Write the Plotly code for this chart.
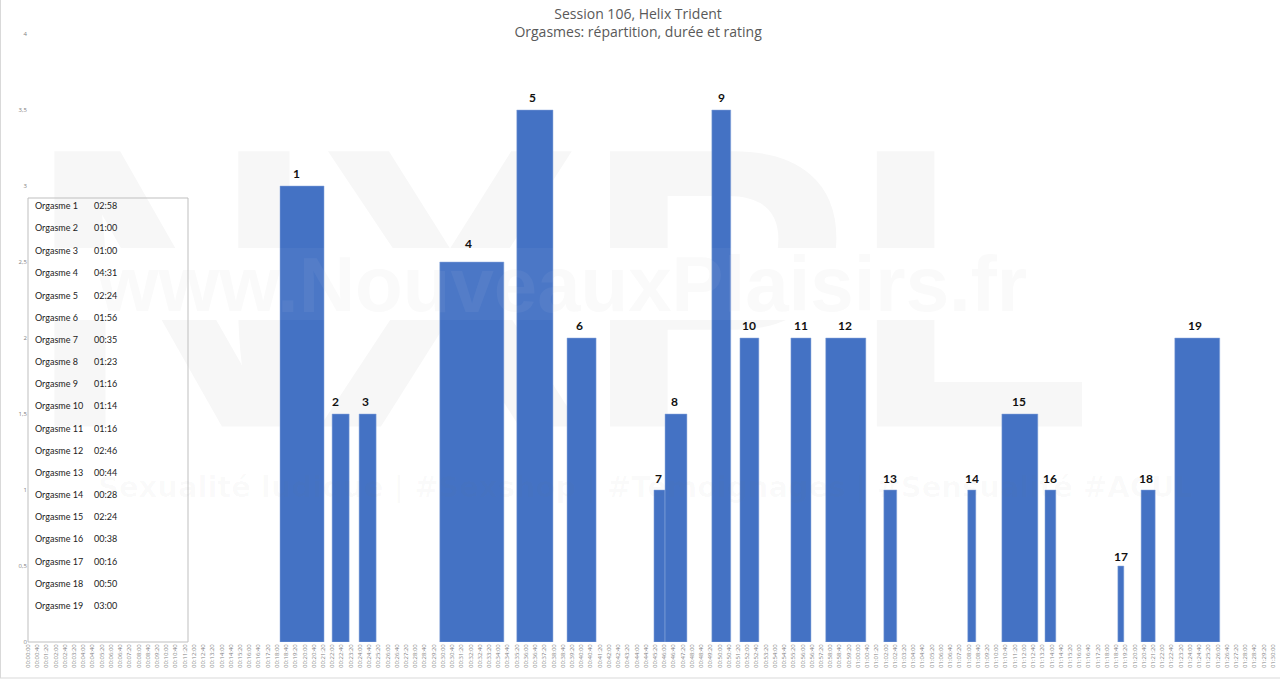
import plotly.graph_objects as go

# rating, start and end of each orgasm (seconds from session start)
numbers = list(range(1, 20))
ratings = [3, 1.5, 1.5, 2.5, 3.5, 2, 1, 1.5, 3.5, 2, 2, 2, 1, 1, 1.5, 1, 0.5, 1, 2]
starts = [1093, 1319, 1436, 1786, 2120, 2338, 2715, 2763, 2966, 3088, 3309, 3460, 3712, 4076, 4224, 4411, 4727, 4828, 4974]
ends = [1284, 1393, 1510, 2064, 2277, 2464, 2763, 2858, 3048, 3170, 3396, 3634, 3768, 4111, 4380, 4458, 4753, 4889, 5169]
durations = ["02:58", "01:00", "01:00", "04:31", "02:24", "01:56", "00:35", "01:23", "01:16", "01:14",
             "01:16", "02:46", "00:44", "00:28", "02:24", "00:38", "00:16", "00:50", "03:00"]
table_rows_y = [205, 228, 250, 272, 295, 317, 339, 361, 383, 405, 428, 450, 472, 494, 516, 538, 561, 583, 605]
y_ticks = [0, 0.5, 1, 1.5, 2, 2.5, 3, 3.5, 4]
tick_seconds = list(range(0, 5401, 40))

# the number labels were placed by hand in the original, slightly off the bar centres
label_xshift = [-6, -5, -2, -3, -2, -2, -1, -1, 0, 0, 0, -1, 0, 0, -1, 0, 0, -2, -2]
label_yshift = [3, 3, 3, 9, 3, 3, 2, 3, 3, 3, 3, 3, 2, 2, 3, 2, 0, 2, 3]

# plot area margins, in pixels
ML, MR, MT, MB = 28, 7, 34, 38


def hms(s):
    return "%02d:%02d:%02d" % (s // 3600, s % 3600 // 60, s % 60)


# paper coordinates are relative to the plot area, so convert from picture pixels
def px(x):
    return (x - ML) / (1280 - ML - MR)


def py(y):
    return (680 - MB - y) / (680 - MT - MB)


widths = [e - s for s, e in zip(starts, ends)]

fig = go.Figure()
fig.add_trace(go.Bar(
    x=starts,
    y=ratings,
    width=widths,
    offset=0,
    marker=dict(color="#4472C4", line=dict(color="#8FAADC", width=0.5)),
    hoverinfo="skip",
))

annotations = []
shapes = []

for i, n in enumerate(numbers):
    annotations.append(dict(text=str(n), x=(starts[i] + ends[i]) / 2, y=ratings[i], yanchor="bottom",
                            xshift=label_xshift[i], yshift=label_yshift[i], showarrow=False,
                            font=dict(family="Lato", size=12, color="#111111", weight="bold")))


def paper_rect(x0, x1, y0, y1, **kw):
    return dict(type="rect", xref="paper", yref="paper", x0=px(x0), x1=px(x1), y0=py(y0), y1=py(y1),
                line=dict(width=0), **kw)


# watermark under the bars: big letters, white band across them, site name in the band
shapes.append(paper_rect(53, 1069, 103, 397, layer="below", fillcolor="rgba(255,255,255,0)",
                         label=dict(text="NXPL", textposition="middle center",
                                    font=dict(family="Liberation Sans", size=400, color="#F7F7F7", weight="bold"))))
shapes.append(paper_rect(0, 1280, 248, 320, layer="below", fillcolor="white"))
shapes.append(paper_rect(100, 1025, 249, 305, layer="below", fillcolor="rgba(255,255,255,0)",
                         label=dict(text="www.NouveauxPlaisirs.fr", textposition="middle center",
                                    font=dict(family="Liberation Sans", size=78, color="#FAFAFA", weight="bold"))))
# same band and site name show faintly over the bars
shapes.append(paper_rect(0, 1280, 248, 320, layer="above", fillcolor="rgba(255,255,255,0.04)"))
annotations.append(dict(text="www.NouveauxPlaisirs.fr", xref="paper", yref="paper", x=px(562), y=py(285), yanchor="middle",
                        showarrow=False,
                        font=dict(family="Liberation Sans", size=78, color="rgba(255,255,255,0.05)", weight="bold")))
annotations.append(dict(text="Sexualité ludique | #Sexshop | #Témoignages | #Sensualité #ACUL", xref="paper", yref="paper",
                        x=px(645), y=py(487), yanchor="middle", showarrow=False,
                        font=dict(family="DejaVu Sans", size=29, color="rgba(120,120,120,0.03)", weight="bold")))

# table of durations
shapes.append(dict(type="rect", xref="paper", yref="paper", x0=px(28), x1=px(188), y0=py(198), y1=py(642),
                   line=dict(color="#BFBFBF", width=1), fillcolor="rgba(255,255,255,0)"))
for n, d, row_y in zip(numbers, durations, table_rows_y):
    annotations.append(dict(text="Orgasme %d" % n, xref="paper", yref="paper", x=px(33), y=py(row_y), xanchor="left",
                            yanchor="middle", showarrow=False, font=dict(family="Lato", size=9, color="#222222")))
    annotations.append(dict(text=d, xref="paper", yref="paper", x=px(92), y=py(row_y), xanchor="left",
                            yanchor="middle", showarrow=False, font=dict(family="Lato", size=9, color="#222222")))

# outer chart frame: left and bottom edges show
shapes.append(dict(type="line", xref="paper", yref="paper", x0=px(0.5), x1=px(0.5), y0=py(0), y1=py(678),
                   line=dict(color="#D9D9D9", width=1)))
shapes.append(dict(type="line", xref="paper", yref="paper", x0=px(0), x1=px(1280), y0=py(678), y1=py(678),
                   line=dict(color="#D9D9D9", width=1)))

fig.update_layout(
    width=1280,
    height=680,
    margin=dict(l=ML, r=MR, t=MT, b=MB),
    paper_bgcolor="white",
    plot_bgcolor="white",
    showlegend=False,
    title=dict(
        text="Session 106, Helix Trident<br>Orgasmes: répartition, durée et rating",
        x=0.4985, xanchor="center", y=0.972, yanchor="top",
        font=dict(family="Open Sans", size=14, color="#595959"),
    ),
    xaxis=dict(
        range=[0, 5400],
        automargin=False,
        tickmode="array",
        tickvals=tick_seconds,
        ticktext=[hms(s) for s in tick_seconds],
        tickangle=-90,
        tickfont=dict(family="Open Sans", size=6, color="#7F7F7F"),
        showgrid=False,
        zeroline=False,
        showline=False,
        ticks="",
    ),
    yaxis=dict(
        range=[0, 4],
        automargin=False,
        tickmode="array",
        tickvals=y_ticks,
        ticktext=[str(v).replace(".", ",") if v % 1 else str(int(v)) for v in y_ticks],
        tickfont=dict(family="Open Sans", size=6, color="#7F7F7F"),
        showgrid=False,
        zeroline=False,
        showline=False,
        ticks="",
    ),
    annotations=annotations,
    shapes=shapes,
)

# the page's default body margin would push the 1280x680 figure off by 8 px
fig.write_html("out.html", post_script="document.body.style.margin='0';", config={"displayModeBar": False})
